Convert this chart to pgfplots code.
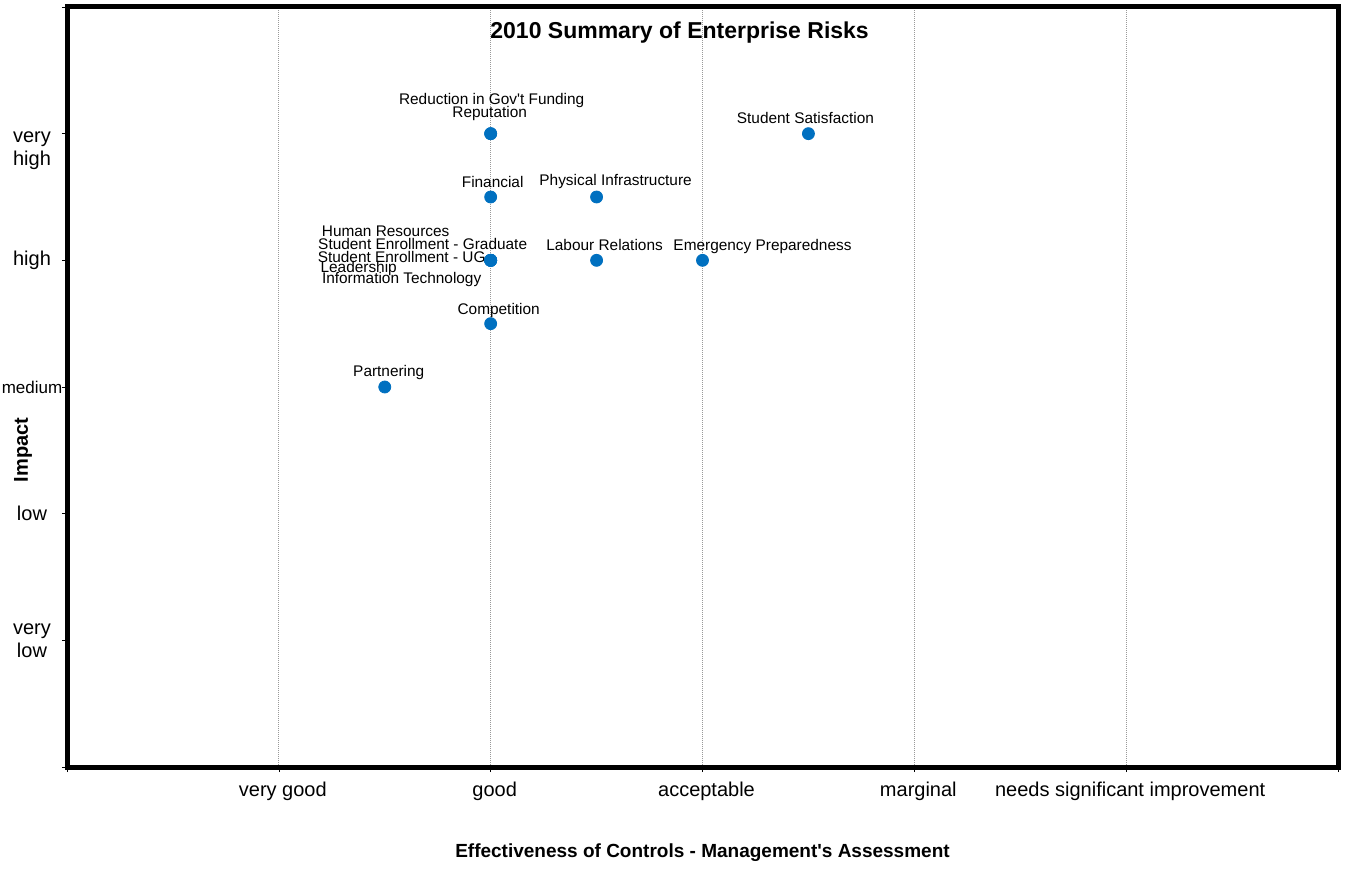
\documentclass[border=0pt]{standalone}
\usepackage{fontspec}
\setmainfont{Liberation Sans}
\usepackage{pgfplots}
\usepackage{pgfplotstable}
\pgfplotsset{compat=1.18}
\definecolor{riskblue}{RGB}{0,112,192}

% risk, control rating (x), impact (y), label offset in pt
\pgfplotstableread[col sep=comma]{
x,y,dx,dy,label
2,5,0.5,16.5,Reduction in Gov\textquotesingle t Funding
2,5,-0.5,10,Reputation
3.5,5,-1.5,8,Student Satisfaction
2,4.5,1,7.5,Financial
2.5,4.5,9.5,7.5,Physical Infrastructure
2,4,-52.5,14.5,Human Resources
2,4,-34,8,Student Enrollment - Graduate
2,4,-44.5,1.5,Student Enrollment - UG
2,4,-66,-4,Leadership
2,4,-44.5,-9.5,Information Technology
2.5,4,4,7.5,Labour Relations
3,4,30,7,Emergency Preparedness
2,3.5,4,6.5,Competition
1.5,3,2,7,Partnering
}\risks

\begin{document}
\begin{tikzpicture}
\begin{axis}[
    name=ax,
    scale only axis,
    width=635.5pt, height=380pt,
    xmin=0, xmax=6, ymin=0, ymax=6,
    axis line style={line width=2.5pt, black},
    xtick={0,...,6},
    xticklabels={,very good,good,acceptable,marginal,needs significant improvement,},
    ytick={0,...,6},
    yticklabels={,{very\\low},low,{\fontsize{8.5}{10}\selectfont medium},high,,},
    extra y ticks={5},
    extra y tick labels={{very\\high}},
    extra y tick style={yticklabel style={yshift=-8.5pt}},
    xtick pos=bottom, ytick pos=left,
    tick align=outside,
    major tick length=2.5pt,
    tick style={black, line width=0.3pt},
    xmajorgrids=true,
    grid style={gray!80, line width=0.4pt, dash pattern=on 0.5pt off 0.5pt},
    xticklabel style={font=\fontsize{10}{12}\selectfont, anchor=center, yshift=-9.5pt, xshift=2pt},
    yticklabel style={font=\fontsize{10}{11.5}\selectfont, align=center, anchor=center, xshift=-15pt},
    every axis title shift=0pt,
    title={2010 Summary of Enterprise Risks},
    title style={font=\fontsize{11.5}{13}\selectfont\bfseries, at={(rel axis cs:0.482,1)}, anchor=center, yshift=-13pt},
    xlabel={Effectiveness of Controls - Management\textquotesingle s Assessment},
    xlabel style={font=\fontsize{9.5}{11}\selectfont\bfseries, at={(rel axis cs:0.5,0)}, anchor=center, yshift=-43pt},
    ylabel={Impact},
    ylabel style={font=\fontsize{10}{12}\selectfont\bfseries, at={(rel axis cs:0,0.417)}, anchor=center, yshift=22pt},
    clip=false,
  ]
  \addplot[
    only marks, mark=*, mark size=3pt,
    mark options={fill=riskblue, draw=riskblue},
    nodes near coords,
    point meta=explicit symbolic,
    visualization depends on={\thisrow{dx}\as\dx},
    visualization depends on={\thisrow{dy}\as\dy},
    nodes near coords style={font=\fontsize{7.7}{9}\selectfont, black, anchor=center, inner sep=0pt, xshift=\dx pt, yshift=\dy pt},
  ] table[x=x, y=y, meta=label] {\risks};
\end{axis}
\pgfresetboundingbox
\path ([xshift=-33.5pt,yshift=-60.5pt]ax.south west) rectangle ([xshift=4pt,yshift=3.5pt]ax.north east);
\end{tikzpicture}
\end{document}
